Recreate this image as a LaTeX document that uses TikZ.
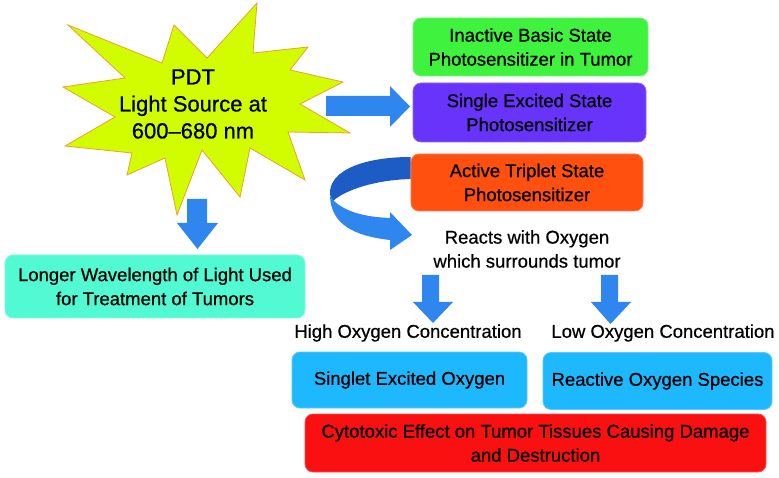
\documentclass[tikz,border=0pt]{standalone}
\usepackage{fontspec}
\setmainfont{Liberation Sans}[FakeBold=0.6]
\definecolor{cgreen}{RGB}{62,242,62}
\definecolor{cpurple}{RGB}{104,52,252}
\definecolor{corange}{RGB}{255,80,16}
\definecolor{caqua}{RGB}{82,250,212}
\definecolor{cblue}{RGB}{30,184,255}
\definecolor{cred}{RGB}{250,16,16}
\definecolor{arrowblue}{RGB}{46,134,238}
\definecolor{arrowdark}{RGB}{28,92,196}
\definecolor{staryellow}{RGB}{210,252,0}
\definecolor{starborder}{RGB}{240,160,40}
\begin{document}
\begin{tikzpicture}[x=1pt,y=-1pt,
  boxtext/.style={font=\fontsize{18.5}{24}\selectfont, align=center, text=black},
  rbox/.style={boxtext, draw=#1!75!white, fill=#1, line width=0.8pt, rounded corners=8pt, inner sep=0pt},
  blockarrow/.style={fill=arrowblue, draw=none},
  plaintext/.style={boxtext, inner sep=0pt}]
\useasboundingbox (0,0) rectangle (779,478);

% starburst
\draw[fill=staryellow, draw=starborder, line width=0.8pt, line join=miter]
 (68,25) -- (162,63) -- (174,25) -- (207,58) -- (257,3) -- (253,53) -- (308,47) -- (290,70)
 -- (343,82) -- (300,104) -- (350,133) -- (288,132) -- (305,180) -- (250,148) -- (240,197)
 -- (202,150) -- (177,215) -- (165,158) -- (127,175) -- (132,153) -- (65,146) -- (115,117)
 -- (63,87) -- (125,78) -- cycle;
\node[font=\fontsize{22}{27}\selectfont, align=center, inner sep=0pt] (star) at (193,104)
  {PDT\\Light Source at\\600--680 nm};

% boxes
\node[rbox=cgreen, minimum width=235pt, minimum height=58pt] (inactive) at (530.5,47)
  {Inactive Basic State\\Photosensitizer in Tumor};
\node[rbox=cpurple, minimum width=233pt, minimum height=59pt] (single) at (529.5,112.5)
  {Single Excited State\\Photosensitizer};
\node[rbox=corange, minimum width=232pt, minimum height=57pt] (triplet) at (527,182.5)
  {Active Triplet State\\Photosensitizer};
\node[plaintext] (reacts) at (527,249) {Reacts with Oxygen\\which surrounds tumor};
\node[rbox=caqua, minimum width=300pt, minimum height=63pt] (longer) at (155,286.5)
  {Longer Wavelength of Light Used\\for Treatment of Tumors};
\node[plaintext] (high) at (408,333) {High Oxygen Concentration};
\node[plaintext] (low) at (663,333) {Low Oxygen Concentration};
\node[rbox=cblue, minimum width=235pt, minimum height=56pt] (singlet) at (409.5,380)
  {Singlet Excited Oxygen};
\node[rbox=cblue, minimum width=229pt, minimum height=57pt] (ros) at (657.5,381)
  {Reactive Oxygen Species};
\node[rbox=cred, minimum width=461pt, minimum height=58pt] (cyto) at (535.5,443)
  {Cytotoxic Effect on Tumor Tissues Causing Damage\\and Destruction};

% block arrows
\fill[blockarrow] (326,96) -- (390,96) -- (390,86) -- (410,106.5) -- (390,127) -- (390,116) -- (326,116) -- cycle;
\fill[blockarrow] (187,199) -- (207,199) -- (207,223) -- (218,223) -- (197.5,249) -- (177,223) -- (187,223) -- cycle;
\fill[blockarrow] (422,275) -- (439,275) -- (439,302) -- (453,302) -- (433,323) -- (413,302) -- (422,302) -- cycle;
\fill[blockarrow] (601,275) -- (618,275) -- (618,302) -- (631,302) -- (610.5,324) -- (591,302) -- (601,302) -- cycle;

% curved ribbon arrow from triplet box to reacts text
\fill[arrowdark] (triplet.west |- 0,157) .. controls (365,157) and (328,170) .. (330,195)
  -- (333,201) .. controls (345,190) and (375,180) .. (triplet.west |- 0,179) -- cycle;
\fill[arrowblue] (333,200) .. controls (345,212) and (365,217) .. (390,218)
  -- (390,212) -- (412,235) -- (390,250) -- (390,240)
  .. controls (355,236) and (331,225) .. (330,196) -- cycle;
\end{tikzpicture}
\end{document}
